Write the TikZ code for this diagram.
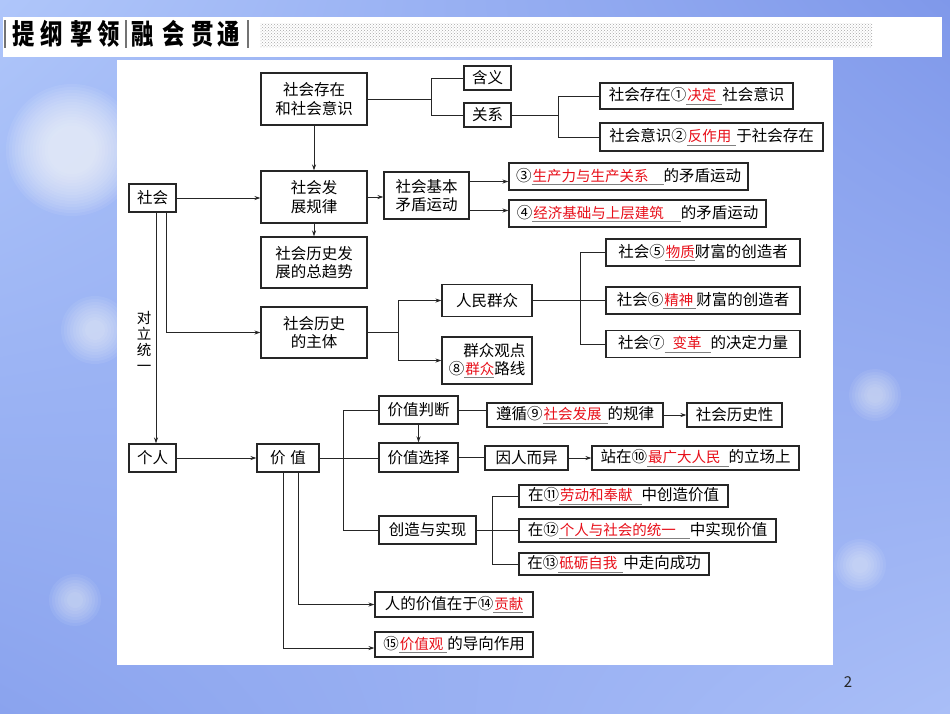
\documentclass[tikz,border=0pt]{standalone}
\usepackage{fontspec}
\setmainfont{Noto Sans CJK SC}
\usetikzlibrary{arrows.meta,patterns,shadows,shadings}
\definecolor{ansred}{HTML}{E8101A}
\definecolor{bgA}{HTML}{AFC6FA}
\definecolor{bgB}{HTML}{7F98EA}
\definecolor{bgC}{HTML}{8AA3EE}
\definecolor{bgD}{HTML}{A9BEF7}
\newcommand\blankans[2][0pt]{\setbox0=\hbox{\hspace{1pt}{\fontsize{14.5}{14.5}\selectfont\color{ansred}#2}\hspace{#1}}\rlap{\color{gray}\rule[-3.5pt]{\wd0}{0.7pt}}\box0}
\begin{document}
\begin{tikzpicture}[x=1pt,y=-1pt,
  box/.style={draw=black!85, line width=1.1pt, fill=white, inner sep=1pt, align=center,
    font=\fontsize{15.5}{18.5}\selectfont,
    drop shadow={shadow xshift=0.8pt, shadow yshift=-0.8pt, fill=black!45, opacity=0.6}},
  ln/.style={draw=black!85, line width=0.9pt},
  arr/.style={ln, -{Stealth[length=6pt,width=4pt]}},
  bokeh/.style={fill=white, opacity=0.07}]
\useasboundingbox (0,0) rectangle (950,713);
% background
\shade[upper left=bgA, upper right=bgB, lower left=bgC, lower right=bgD] (0,0) rectangle (950,713);
\foreach \r in {24,27,...,66} \fill[bokeh] (72,150) circle (\r);
\foreach \r in {10,13,...,34} \fill[bokeh] (95,330) circle (\r);
\foreach \r in {8,11,...,28} \fill[bokeh] (75,600) circle (\r);
\foreach \r in {8,11,...,26} \fill[bokeh] (875,395) circle (\r);
\foreach \r in {8,11,...,26} \fill[bokeh] (860,565) circle (\r);
% title bar
\fill[white] (3,17) rectangle (942,57);
\fill[pattern=crosshatch dots, pattern color=black!35] (260,23) rectangle (872,47);
\foreach \x in {5,126,248} \draw[black!55, line width=1.6pt] (\x,20) -- (\x,48);
\foreach \c/\x in {提/24,纲/51.5,挈/81.5,领/108.5,融/142.5,会/174,贯/202.5,通/229}
  \node[inner sep=0pt, font=\fontsize{28}{28}\bfseries\selectfont] (t\x) at (\x,34) {\scalebox{0.8}[1]{\c}};
% panel
\fill[white] (117,60) rectangle (833,665);
% nodes
\node[box, minimum width=106, minimum height=52] (sc) at (314,99) {社会存在\\和社会意识};
\node[box, minimum width=47, minimum height=24] (hy) at (487.5,78) {含义};
\node[box, minimum width=47, minimum height=24] (gx) at (487.5,115) {关系};
\node[box, minimum width=193, minimum height=26] (r1) at (696.5,96) {社会存在①\blankans[6pt]{决定}社会意识};
\node[box, minimum width=223, minimum height=28] (r2) at (711.5,137) {社会意识②\blankans[5pt]{反作用}于社会存在};
\node[box, minimum width=47, minimum height=28] (sh) at (152.5,198) {社会};
\node[box, minimum width=106, minimum height=52] (fz) at (314,197) {社会发\\展规律};
\node[box, minimum width=85, minimum height=47] (jb) at (426.5,195.5) {社会基本\\矛盾运动};
\node[box, minimum width=239, minimum height=27] (m3) at (628.5,176.5) {③\blankans[15pt]{生产力与生产关系}的矛盾运动};
\node[box, minimum width=257, minimum height=27] (m4) at (637.5,213.5) {④\blankans[17pt]{经济基础与上层建筑}的矛盾运动};
\node[box, minimum width=106, minimum height=51] (qs) at (314,262.5) {社会历史发\\展的总趋势};
\node[box, minimum width=106, minimum height=51] (zt) at (314,332.5) {社会历史\\的主体};
\node[box, minimum width=90, minimum height=32] (rm) at (487,300.5) {人民群众};
\node[box, minimum width=90, minimum height=47, align=right] (gz) at (487,360.5) {群众观点\\⑧\blankans{群众}路线};
\node[box, minimum width=194, minimum height=27] (c5) at (703,252.5) {社会⑤\blankans{物质}财富的创造者};
\node[box, minimum width=194, minimum height=27] (c6) at (703,300.5) {社会⑥\blankans[3pt]{精神}财富的创造者};
\node[box, minimum width=194, minimum height=27] (c7) at (703,344) {社会⑦\blankans[9pt]{\hspace{7pt}变革}的决定力量};
\node[inner sep=0pt, align=center, font=\fontsize{14.5}{16}\selectfont] (dl) at (144,341) {对\\立\\统\\一};
\node[box, minimum width=47, minimum height=28] (gr) at (152.5,458) {个人};
\node[box, minimum width=62, minimum height=28] (jz) at (288,458) {价\hspace{0.3em}值};
\node[box, minimum width=79, minimum height=28] (pd) at (418.5,410) {价值判断};
\node[box, minimum width=79, minimum height=29] (xz) at (418.5,457.5) {价值选择};
\node[box, minimum width=97, minimum height=28] (cz) at (427.5,530) {创造与实现};
\node[box, minimum width=176, minimum height=24] (zx) at (575,415) {遵循⑨\blankans[6pt]{社会发展}的规律};
\node[box, minimum width=95, minimum height=24] (ls) at (734.5,415) {社会历史性};
\node[box, minimum width=83, minimum height=24] (yr) at (526.5,458) {因人而异};
\node[box, minimum width=207, minimum height=24] (zz) at (695.5,458) {站在⑩\blankans[8pt]{最广大人民}的立场上};
\node[box, minimum width=209, minimum height=22] (z11) at (623.5,496) {在⑪\blankans[9pt]{劳动和奉献}中创造价值};
\node[box, minimum width=257, minimum height=23] (z12) at (647.5,530.5) {在⑫\blankans[14pt]{个人与社会的统一}中实现价值};
\node[box, minimum width=190, minimum height=22] (z13) at (614,564) {在⑬\blankans[6pt]{砥砺自我}中走向成功};
\node[box, minimum width=158, minimum height=25] (z14) at (454,604.5) {人的价值在于⑭\blankans{贡献}};
\node[box, minimum width=158, minimum height=25] (z15) at (454,644.5) {⑮\blankans[4pt]{价值观}的导向作用};
\node[font=\fontsize{15}{15}\selectfont, text=black!85] (pg) at (848,682) {2};
% connectors
\draw[ln] (sc.east) -- ++(64,0) coordinate (j1);
\draw[ln] (hy.west) -| (j1) |- (gx.west);
\draw[ln] (gx.east) -- ++(47,0) coordinate (j2);
\draw[ln] (r1.west) -| (j2) |- (r2.west);
\draw[arr] (sc.south) -- (fz.north);
\draw[arr] (sh.east) -- (sh.east -| fz.west);
\draw[arr] (fz.east) -- (fz.east -| jb.west);
\draw[arr] ([yshift=14pt]jb.east) -- ([yshift=14pt]jb.east -| m3.west);
\draw[arr] ([yshift=-15pt]jb.east) -- ([yshift=-15pt]jb.east -| m4.west);
\draw[arr] (fz.south) -- (qs.north);
\draw[arr] ([xshift=13.5pt]sh.south) |- (zt.west);
\draw[arr] ([xshift=3.5pt]sh.south) -- ([xshift=3.5pt]gr.north);
\draw[ln] (zt.east) -- ++(31,0) coordinate (j3);
\draw[arr] (j3) |- (rm.west);
\draw[arr] (j3) |- (gz.west);
\draw[ln] (rm.east) -- (c6.west);
\draw[ln] (rm.east) -- ++(48,0) coordinate (j4);
\draw[ln] (c5.west) -| (j4) |- (c7.west);
\draw[arr] (gr.east) -- (jz.west);
\draw[ln] (jz.east) -- (jz.east -| xz.west);
\draw[ln] (jz.east) -- ++(24,0) coordinate (j5);
\draw[ln] (pd.west) -| (j5) |- (cz.west);
\draw[arr] (pd.south) -- (xz.north);
\draw[ln] (pd.east) -- (pd.east -| zx.west);
\draw[arr] (zx.east) -- (ls.west);
\draw[ln] (xz.east) -- (xz.east -| yr.west);
\draw[arr] (yr.east) -- (zz.west);
\draw[ln] (cz.east) -- (cz.east -| z12.west);
\draw[ln] (cz.east) -- ++(16,0) coordinate (j6);
\draw[ln] (z11.west) -| (j6) |- (z13.west);
\draw[arr] ([xshift=10pt]jz.south) |- (z14.west);
\draw[arr] ([xshift=-5pt]jz.south) |- ([yshift=-3.5pt]z15.west);
\end{tikzpicture}
\end{document}
